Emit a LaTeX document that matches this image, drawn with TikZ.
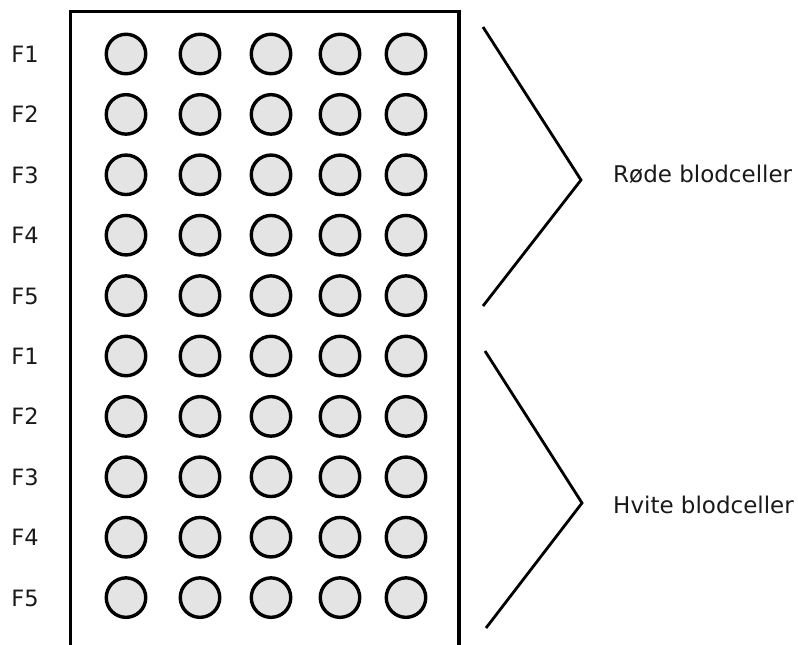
\documentclass[tikz,border=0pt]{standalone}
\usepackage{fontspec}
\setmainfont{DejaVu Sans}
\begin{document}
\begin{tikzpicture}[x=1pt,y=-1pt,
  cell/.style={circle,draw=black,fill=cellgray,line width=3.4pt,minimum size=39.5pt,inner sep=0pt},
  rowlabel/.style={anchor=base,font=\fontsize{22.5}{26}\selectfont,text=black!90,inner sep=0pt},
  grouplabel/.style={anchor=base west,font=\fontsize{23}{27}\selectfont,text=black!90,inner sep=0pt},
  bracket/.style={line width=2.8pt,line join=miter,black}]
\definecolor{cellgray}{HTML}{E4E4E4}
\useasboundingbox (0,0) rectangle (798,645);
% plate outline, open at the bottom edge
\draw[line width=3.4pt] (70.5,660) -- (70.5,11.5) -- (459,11.5) -- (459,660);
% wells: ten rows by five columns
\foreach \r [count=\i] in {1,2,3,4,5,1,2,3,4,5}{
  \pgfmathsetmacro{\yy}{54+60.4*(\i-1)}
  \node[rowlabel] (lab-\i) at (25,\yy+8.5) {F\r};
  \foreach \xx [count=\j] in {126,200,271,340,406}{
    \node[cell] (w-\i-\j) at (\xx,\yy) {};
  }
}
% group brackets
\coordinate (ra) at (483,27);
\coordinate (rb) at (581,180);
\coordinate (rc) at (483,306);
\coordinate (ha) at (485,351);
\coordinate (hb) at (582,503);
\coordinate (hc) at (486,628);
\draw[bracket] (ra) -- (rb) -- (rc);
\draw[bracket] (ha) -- (hb) -- (hc);
\node[grouplabel] (red) at (613,182) {Røde blodceller};
\node[grouplabel] (white) at (613,513) {Hvite blodceller};
\end{tikzpicture}
\end{document}
